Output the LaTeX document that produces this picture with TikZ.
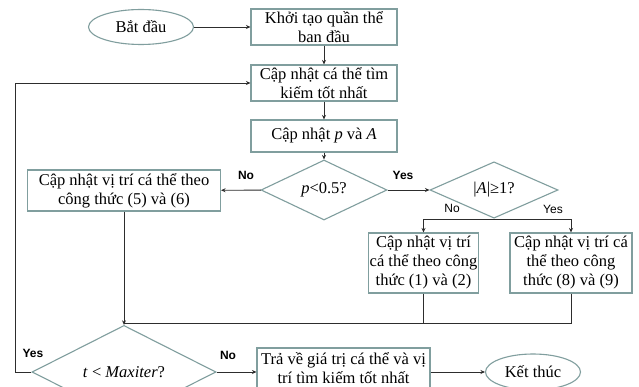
\documentclass[tikz,border=0pt]{standalone}
\usepackage{fontspec}
\setmainfont{Liberation Serif}
\newfontfamily\lblfont{Liberation Sans}
\usetikzlibrary{shapes.geometric,arrows.meta}
\definecolor{bordercol}{RGB}{128,158,158}
\definecolor{linecol}{RGB}{45,45,45}
\tikzset{
  txt/.style={align=center,inner sep=1pt,font=\fontsize{16.5}{19}\selectfont},
  box/.style={txt,draw=bordercol,line width=1.1pt,rectangle},
  oval/.style={txt,draw=bordercol,line width=1.1pt,ellipse,inner sep=0pt},
  dec/.style={txt,draw=bordercol,line width=1.1pt,diamond,inner sep=0pt},
  conn/.style={draw=linecol,line width=0.9pt},
  arr/.style={conn,-{Stealth[length=4.5pt,width=4pt]}},
  blab/.style={font=\lblfont\bfseries\fontsize{12}{14}\selectfont,inner sep=0pt},
  rlab/.style={font=\lblfont\fontsize{12}{14}\selectfont,inner sep=0pt}
}
\begin{document}
\begin{tikzpicture}[x=1pt,y=-1pt]
\useasboundingbox (0,0) rectangle (639,387);
\clip (0,0) rectangle (639,387);
\fill[white] (0,0) rectangle (639,387);
% nodes
\node[oval,minimum width=105pt,minimum height=35pt] (start) at (141,27) {Bắt đầu};
\node[box,minimum width=146pt,minimum height=36pt] (init) at (324,27) {Khởi tạo quần thể\\ban đầu};
\node[box,minimum width=146pt,minimum height=36pt] (best) at (324,83) {Cập nhật cá thể tìm\\kiếm tốt nhất};
\node[box,minimum width=146pt,minimum height=32pt] (upd) at (324,136) {Cập nhật \textit{p} và \textit{A}};
\node[dec,minimum width=126pt,minimum height=38pt] (d1) at (324,190) {\textit{p}<0.5?};
\node[box,minimum width=193pt,minimum height=41pt] (f56) at (124,190.5) {Cập nhật vị trí cá thể theo\\công thức (5) và (6)};
\node[dec,minimum width=128pt,minimum height=36pt] (d2) at (494,190) {|\textit{A}|≥1?};
\node[box,minimum width=107pt,minimum height=60pt] (f12) at (423.5,263) {Cập nhật vị trí\\cá thể theo công\\thức (1) và (2)};
\node[box,minimum width=122pt,minimum height=60pt] (f89) at (571,263) {Cập nhật vị trí cá\\thể theo công\\thức (8) và (9)};
\node[dec,minimum width=184pt,minimum height=48pt] (d3) at (124,372) {\textit{t} < \textit{Maxiter}?};
\node[box,minimum width=173pt,minimum height=48pt] (retbox) at (343.5,372) {};
\node[txt] (ret) at (343.5,368.5) {Trả về giá trị cá thể và vị\\trí tìm kiếm tốt nhất};
\node[oval,minimum width=95pt,minimum height=36pt] (end) at (533,372) {Kết thúc};
% coordinates
\coordinate (j1) at (494,219);
\coordinate (m) at (124,323);
\coordinate (lp) at (15,372);
% connectors
\draw[arr] (start) -- (init);
\draw[arr] (init) -- (best);
\draw[arr] (best) -- (upd);
\draw[arr] (upd) -- (d1);
\draw[arr] (d1) -- (f56);
\draw[arr] (d1) -- (d2);
\draw[conn] (d2.south) -- (j1);
\draw[arr] (j1) -| (f12.north);
\draw[arr] (j1) -| (f89.north);
\draw[conn] (f89.south) |- (m);
\draw[conn] (f12.south) -- (f12.south |- m);
\draw[arr] (f56) -- (d3);
\draw[arr] (d3) -- (retbox);
\draw[arr] (d3.west) -- (lp) |- (best.west);
\draw[arr] (retbox) -- (end);
% labels
\node[blab] (lno1) at (246,175) {No};
\node[blab] (lyes1) at (403,175) {Yes};
\node[rlab] (lno2) at (452,208) {No};
\node[rlab] (lyes2) at (553,209) {Yes};
\node[blab] (lyes3) at (33,353) {Yes};
\node[blab] (lno3) at (228,355) {No};
\end{tikzpicture}
\end{document}
